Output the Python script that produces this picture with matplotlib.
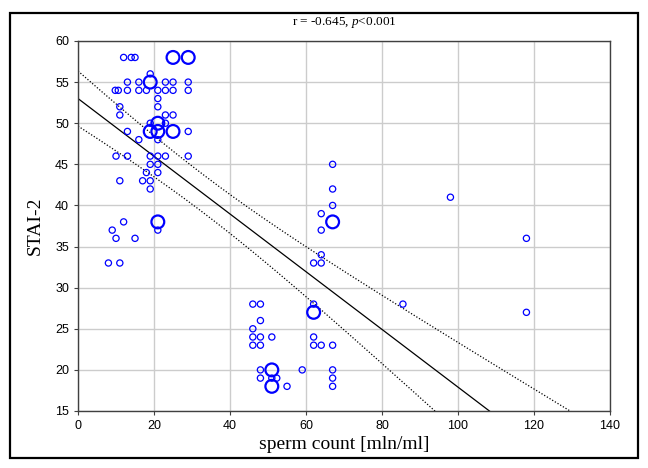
import numpy as np
import matplotlib
matplotlib.use("Agg")
import matplotlib.pyplot as plt
from matplotlib.patches import Rectangle

plt.rcParams['font.family'] = ['Liberation Sans', 'DejaVu Sans']
plt.rcParams['mathtext.fontset'] = 'custom'
plt.rcParams['mathtext.rm'] = 'Liberation Serif'
plt.rcParams['mathtext.it'] = 'Liberation Serif:italic'

# single observations (small circles)
x_small = [12, 14, 15, 19,
           13, 16, 23, 25, 29,
           9.8, 10.6, 13, 16, 18, 21, 23, 25, 29,
           21, 11, 21, 11, 23, 25, 19, 23, 13, 29, 16, 21,
           10, 13, 19, 21, 23, 29, 19, 21, 18, 21, 11, 17, 19, 19,
           12, 9, 21, 10, 15, 8, 11,
           67, 67, 67, 64, 64, 64, 62, 64,
           46, 48, 62, 48, 46, 46, 48, 51, 62,
           46, 48, 62, 64, 67,
           48, 59, 67, 48, 51, 52.3, 67, 55, 67,
           85.5, 98, 118, 118]
y_small = [58, 58, 58, 56,
           55, 55, 55, 55, 55,
           54, 54, 54, 54, 54, 54, 54, 54, 54,
           53, 52, 52, 51, 51, 51, 50, 50, 49, 49, 48, 48,
           46, 46, 46, 46, 46, 46, 45, 45, 44, 44, 43, 43, 43, 42,
           38, 37, 37, 36, 36, 33, 33,
           45, 42, 40, 39, 37, 34, 33, 33,
           28, 28, 28, 26, 25, 24, 24, 24, 24,
           23, 23, 23, 23, 23,
           20, 20, 20, 19, 19, 19, 19, 18, 18,
           28, 41, 36, 27]

# repeated observations (large circles)
x_large = [25, 29, 19, 21, 19, 21, 25, 21, 67, 62, 51, 51]
y_large = [58, 58, 55, 50, 49, 49, 49, 38, 38, 27, 20, 18]

# regression line and 95% band
intercept = 53.0
slope = -0.351
x_mean = 33.0
band_mean = 2.31
band_k = 0.005388

xticks = [0, 20, 40, 60, 80, 100, 120, 140]
yticks = [15, 20, 25, 30, 35, 40, 45, 50, 55, 60]

fig = plt.figure(figsize=(6.48, 4.68), dpi=100)
ax = fig.add_axes([0.1204, 0.1218, 0.8210, 0.7906])

ax.scatter(x_small, y_small, s=20, facecolors='none', edgecolors='blue',
           linewidths=0.9, zorder=3)
ax.scatter(x_large, y_large, s=85, facecolors='none', edgecolors='blue',
           linewidths=1.6, zorder=3)

xx = np.linspace(0, 140, 300)
yy = intercept + slope * xx
hw = np.sqrt(band_mean ** 2 + band_k * (xx - x_mean) ** 2)
ax.plot(xx, yy, color='black', lw=0.9, zorder=2)
ax.plot(xx, yy + hw, color='black', lw=0.9, ls=(0, (1, 1.5)), zorder=2)
ax.plot(xx, yy - hw, color='black', lw=0.9, ls=(0, (1, 1.5)), zorder=2)

ax.set_xlim(0, 140)
ax.set_ylim(15, 60)
ax.set_xticks(xticks)
ax.set_yticks(yticks)
ax.grid(True, color='#cccccc', lw=1)
ax.set_axisbelow(True)
ax.tick_params(labelsize=9, length=3, width=0.8, color='#404040')
for s in ax.spines.values():
    s.set_color('#404040')
    s.set_linewidth(1)

ax.set_xlabel('sperm count [mln/ml]', family='Liberation Serif', fontsize=14,
              labelpad=3)
ax.set_ylabel('STAI-2', family='Liberation Serif', fontsize=14, labelpad=8)
fig.text(0.531, 0.952, r'r = -0.645, $p$<0.001', family='Liberation Serif',
         fontsize=9.5, ha='center', va='center')

fig.patches.append(Rectangle((10 / 648, 10 / 468), 628 / 648, 445 / 468,
                             transform=fig.transFigure, fill=False,
                             edgecolor='black', lw=1.6))

fig.savefig('out.png', dpi=100)
